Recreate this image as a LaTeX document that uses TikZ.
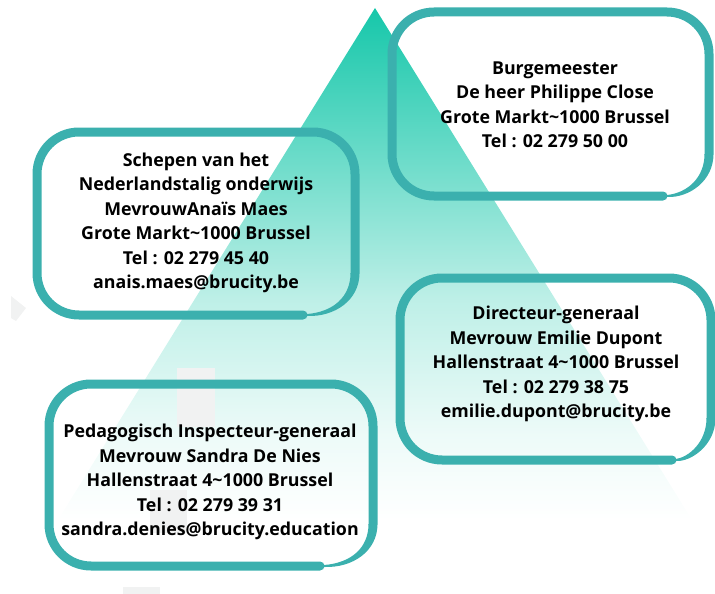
\documentclass[tikz,border=0pt]{standalone}
\usepackage{fontspec}
\setmainfont{Open Sans}
\usepackage{tikz}
\usetikzlibrary{calc}

\definecolor{tealline}{RGB}{59,176,174}
\definecolor{tealtop}{RGB}{22,199,170}
\definecolor{ghost}{RGB}{241,242,242}
\pgfdeclareverticalshading{pyramid}{100bp}{color(0bp)=(white); color(25bp)=(white);
  color(33.5bp)=(tealtop!8); color(46.5bp)=(tealtop!28); color(61bp)=(tealtop!65);
  color(75bp)=(tealtop); color(100bp)=(tealtop)}

\begin{document}
\begin{tikzpicture}[x=1pt,y=-1pt,
  frame/.style={draw=tealline,line width=9pt,rounded corners=42pt,line cap=round},
  tail/.style={fill=tealline,draw=none},
  info/.style={align=center,inner sep=0pt,font=\bfseries\fontsize{17.8}{24.5}\selectfont}]
  \useasboundingbox (0,0) rectangle (715,594);

  %% Fading triangle behind everything
  \shade[shading=pyramid] (375,8) -- (692,520) -- (58,520) -- cycle;

  %% Faint marks
  \fill[ghost] (177,368) rectangle (215,427);
  \fill[ghost] (150,490) rectangle (187,533);
  \fill[ghost] (123,587) rectangle (160,594);
  \fill[ghost] (11,296) -- (26,308) -- (16,321) -- (11,318) -- cycle;

  %% Open frames: left/top/right/bottom/end of the bottom stroke
  \foreach \xa/\ya/\xb/\yb/\xe in {392/12/709/196/663, 37/132/355/315/303,
                                   400/278/711/460/672, 49/384/373/566/320}
  {
    \draw[frame] (\xe,\yb) -- (\xa,\yb) -- (\xa,\ya) -- (\xb,\ya) -- (\xb,\yb-42);
    \fill[tail] (\xb+4.5,\yb-42) .. controls (\xb+4.5,\yb-15) and (\xb-20,\yb+2) .. (\xe+4,\yb+1)
      -- (\xe+4,\yb-1) .. controls (\xb-22,\yb-3) and (\xb-4.5,\yb-18) .. (\xb-4.5,\yb-42) -- cycle;
  }

  %% Texts
  \node[info] (BURG) at (555,105) {Burgemeester\\De heer Philippe Close\\Grote Markt\textasciitilde 1000 Brussel\\Tel : 02 279 50 00};
  \node[info] (SCHEP) at (196,223) {Schepen van het\\Nederlandstalig onderwijs\\MevrouwAnaïs Maes\\Grote Markt\textasciitilde 1000 Brussel\\Tel : 02 279 45 40\\anais.maes@brucity.be};
  \node[info] (DIR) at (556,364) {Directeur-generaal\\Mevrouw Emilie Dupont\\Hallenstraat 4\textasciitilde 1000 Brussel\\Tel : 02 279 38 75\\emilie.dupont@brucity.be};
  \node[info] (INSP) at (210,482) {Pedagogisch Inspecteur-generaal\\Mevrouw Sandra De Nies\\Hallenstraat 4\textasciitilde 1000 Brussel\\Tel : 02 279 39 31\\sandra.denies@brucity.education};
\end{tikzpicture}
\end{document}
